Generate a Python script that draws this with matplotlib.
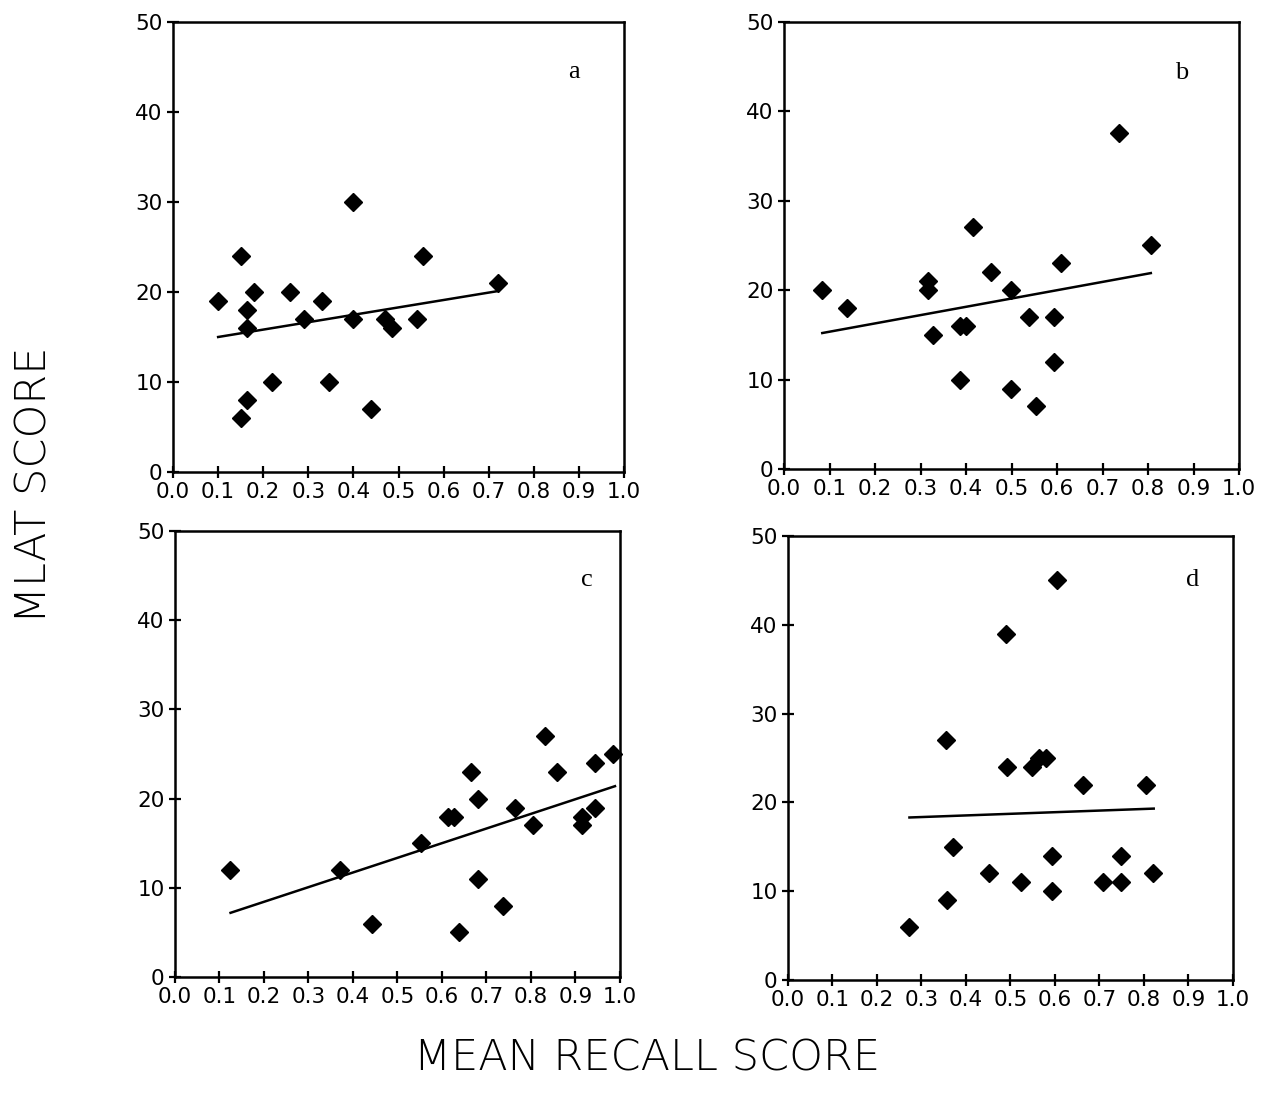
import matplotlib
matplotlib.use("Agg")
import matplotlib.pyplot as plt
import numpy as np

# panel a
xa = [0.10, 0.15, 0.18, 0.165, 0.165, 0.165, 0.15, 0.22, 0.26, 0.29,
      0.33, 0.345, 0.40, 0.40, 0.44, 0.47, 0.485, 0.54, 0.555, 0.72]
ya = [19, 24, 20, 18, 16, 8, 6, 10, 20, 17,
      19, 10, 30, 17, 7, 17, 16, 17, 24, 21]
line_a = ([0.10, 0.72], [15.0, 20.1])

# panel b
xb = [0.083, 0.138, 0.316, 0.316, 0.328, 0.387, 0.387, 0.40, 0.415, 0.455,
      0.498, 0.498, 0.539, 0.554, 0.593, 0.593, 0.609, 0.806, 0.735]
yb = [20, 18, 21, 20, 15, 10, 16, 16, 27, 22,
      20, 9, 17, 7, 17, 12, 23, 25, 37.6]
line_b = ([0.084, 0.806], [15.2, 21.9])

# panel c
xc = [0.124, 0.372, 0.444, 0.554, 0.614, 0.627, 0.639, 0.665, 0.682, 0.682,
      0.738, 0.764, 0.805, 0.831, 0.858, 0.914, 0.914, 0.944, 0.944, 0.985]
yc = [12, 12, 6, 15, 18, 18, 5, 23, 20, 11,
      8, 19, 17, 27, 23, 18, 17, 24, 19, 25]
line_c = ([0.125, 0.989], [7.2, 21.4])

# panel d
xd = [0.273, 0.358, 0.371, 0.356, 0.452, 0.493, 0.491, 0.524, 0.549, 0.564,
      0.581, 0.594, 0.594, 0.605, 0.663, 0.708, 0.749, 0.749, 0.805, 0.82]
yd = [6, 9, 15, 27, 12, 24, 39, 11, 24, 25,
      25, 14, 10, 45, 22, 11, 11, 14, 22, 12]
line_d = ([0.273, 0.822], [18.3, 19.3])

panels = [
    ("a", xa, ya, line_a, [0.1369, 0.5713, 0.3568, 0.4087], (0.889, 0.888)),
    ("b", xb, yb, line_b, [0.6203, 0.5740, 0.3600, 0.4063], (0.873, 0.885)),
    ("c", xc, yc, line_c, [0.1384, 0.1126, 0.3520, 0.4050], (0.926, 0.890)),
    ("d", xd, yd, line_d, [0.6234, 0.1099, 0.3520, 0.4033], (0.910, 0.900)),
]

xticks = np.arange(0, 1.01, 0.1)
xlabels = ["%.1f" % t for t in xticks]
yticks = [0, 10, 20, 30, 40, 50]

fig = plt.figure(figsize=(12.64, 11.01), dpi=100)

for name, xs, ys, ln, rect, lpos in panels:
    ax = fig.add_axes(rect)
    ax.plot(xs, ys, linestyle="none", marker="D", markersize=9.5,
            color="black", clip_on=False)
    ax.plot(ln[0], ln[1], color="black", linewidth=1.8)
    ax.set_xlim(0, 1.0)
    ax.set_ylim(0, 50)
    ax.set_xticks(xticks)
    ax.set_xticklabels(xlabels)
    ax.set_yticks(yticks)
    for s in ax.spines.values():
        s.set_linewidth(1.8)
    ax.tick_params(direction="inout", length=9, width=1.6,
                   labelsize=15.5, pad=3, top=False, right=False)
    ax.text(lpos[0], lpos[1], name, transform=ax.transAxes,
            fontsize=19, family="Liberation Serif", ha="center", va="center")

fig.text(0.027, 0.56, "MLAT SCORE", rotation=90, ha="center", va="center",
         fontsize=31, family="DejaVu Sans", fontweight="light")
fig.text(0.512, 0.039, "MEAN RECALL SCORE", ha="center", va="center",
         fontsize=31, family="DejaVu Sans", fontweight="light")

fig.savefig("out.png", dpi=100)
